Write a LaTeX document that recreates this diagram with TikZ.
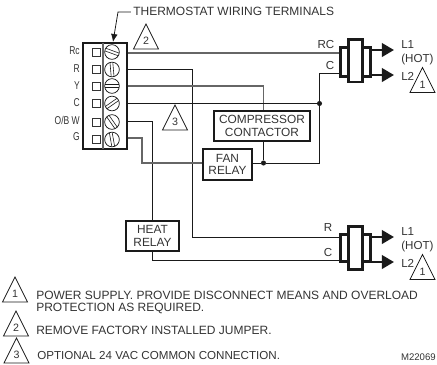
\documentclass[tikz,border=0pt]{standalone}
\usepackage{fontspec}
\setmainfont{Liberation Sans}
\newfontfamily\narrowf[FakeStretch=0.75]{Liberation Sans}
\usetikzlibrary{arrows.meta,calc}
\definecolor{ink}{HTML}{1A1A1A}
\definecolor{txt}{HTML}{333333}
\definecolor{wiregray}{HTML}{666666}
\tikzset{
  wire/.style={draw=ink,line width=0.65pt},
  graywire/.style={draw=wiregray,line width=0.8pt},
  relay/.style={draw=ink,line width=1.7pt,fill=white,inner sep=0pt,align=center,text=txt,font=\fontsize{8.9}{9.6}\selectfont},
  lbl/.style={text=txt,inner sep=0pt,font=\fontsize{8.7}{9}\selectfont},
  termlbl/.style={text=txt,inner sep=0pt,anchor=east,font=\narrowf\fontsize{8.5}{9}\selectfont},
  note/.style={text=txt,inner sep=0pt,anchor=west,font=\fontsize{9}{9}\selectfont},
  tri/.style={draw=ink,line width=0.6pt,line join=miter},
  trinum/.style={text=txt,inner sep=0pt,font=\fontsize{8}{8}\selectfont},
  termsq/.style={draw=txt,line width=0.55pt,fill=white,minimum size=6pt,inner sep=0pt},
  screw/.style={draw=ink,line width=0.55pt,circle,minimum size=11pt,inner sep=0pt},
  pinb/.style={draw=ink,line width=2.1pt,fill=white,inner sep=0pt},
  outarrow/.style={draw=ink,line width=1.9pt,-{Triangle[length=9pt,width=10pt]}},
  junct/.style={circle,fill=ink,minimum size=3.8pt,inner sep=0pt}
}
\newcommand{\warn}[4]{% name, apex x, apex y, number
  \coordinate (#1) at (#2,#3);
  \draw[tri] (#1) -- ++(-12.5,25) -- ++(25,0) -- cycle;
  \node[trinum] (#1n) at ($(#1)+(0,17)$) {#4};
}
\begin{document}
\begin{tikzpicture}[x=0.75pt,y=-0.75pt]
\useasboundingbox (0,0) rectangle (437,365);
% terminal block
\node[draw=ink,line width=1.3pt,minimum width=32.5pt,minimum height=79pt,inner sep=0pt] (block) at (105,96) {};
\draw[draw=wiregray,line width=0.9pt] (103,43) -- (103,149);
\node[termlbl] (lrc) at (80,51) {Rc};
\node[termlbl] (lr) at (80,69) {R};
\node[termlbl] (ly) at (80,86) {Y};
\node[termlbl] (lc) at (80,103) {C};
\node[termlbl] (lob) at (80,120) {O/B W};
\node[termlbl] (lg) at (80,137) {G};
\foreach \n/\y/\a in {rc/52/20,r/69.5/85,y/86/0,c/103.5/-35,ob/122/55,g/139.5/80}{
  \node[termsq] (sq\n) at (96.5,\y) {};
  \node[screw] (t\n) at (112,\y) {};
  \draw[ink,line width=0.45pt] ($(t\n)+(\a:7)+(\a+90:1.4)$) -- ($(t\n)+(\a+180:7)+(\a+90:1.4)$);
  \draw[ink,line width=0.45pt] ($(t\n)+(\a:7)+(\a-90:1.4)$) -- ($(t\n)+(\a+180:7)+(\a-90:1.4)$);
}
% title
\node[lbl,anchor=west,font=\fontsize{9}{9}\selectfont] (title) at (133,11) {THERMOSTAT WIRING TERMINALS};
\draw[ink,line width=0.6pt,-{Latex[length=6pt,width=5pt]}] (title.west) ++(-2,1) -- (118,12) -- (113,42);
% relays
\node[relay,minimum width=72pt,minimum height=22.5pt] (comp) at (262,126) {COMPRESSOR\\CONTACTOR};
\node[relay,minimum width=36.75pt,minimum height=23.5pt] (fan) at (227.5,164.5) {FAN\\RELAY};
\node[relay,minimum width=39.75pt,minimum height=22.5pt] (heat) at (152.5,236) {HEAT\\RELAY};
% connector blocks
\node[pinb,minimum width=22.5pt,minimum height=21.4pt] (outA) at (355.5,62) {};
\node[pinb,minimum width=10.5pt,minimum height=32pt] (innA) at (355.5,60.7) {};
\node[pinb,minimum width=22.5pt,minimum height=20pt] (outB) at (355.5,248) {};
\node[pinb,minimum width=10.5pt,minimum height=32pt] (innB) at (355.5,248) {};
% junctions
\node[junct] (j1) at (319.5,103.5) {};
\node[junct] (j2) at (263.5,163) {};
% wires
\draw[graywire] (block.east |- 0,53) -- (outA.west |- 0,53);
\draw[wire] (block.east |- tr) -| (192.7,237) -- (outB.west |- 0,237);
\draw[graywire] (block.east |- ty) -| (comp.north -| j2);
\draw[wire] (block.east |- tc) -- (j1);
\draw[wire] (outA.west |- 0,73) -| (j1);
\draw[wire] (j1) |- (j2);
\draw[wire] (j2) -- (fan.east |- j2);
\draw[wire] (comp.south -| j2) -- (j2);
\draw[wire] (block.east |- 0,121) -| (heat.north -| 152,0);
\draw[graywire] (block.east |- 0,138) -- (142,138) -- (142,163) -- (fan.west |- 0,163);
\draw[wire] (heat.south -| 152,0) |- (outB.west |- 0,260);
% outputs
\coordinate (a1) at (394,50);
\coordinate (a2) at (394,75);
\coordinate (b1) at (394,237);
\coordinate (b2) at (394,262);
\draw[outarrow] (outA.east |- a1) -- (a1);
\draw[outarrow] (outA.east |- a2) -- (a2);
\draw[outarrow] (outB.east |- b1) -- (b1);
\draw[outarrow] (outB.east |- b2) -- (b2);
% wire labels
\foreach \n/\x/\y/\t in {la/401/45/L1,lb/401/59/(HOT),lcc/401/76/L2,ld/401/232/L1,le/401/246/(HOT),lf/401/263/L2}{
  \node[lbl,anchor=west] (\n) at (\x,\y) {\t};
}
\node[lbl] (w1) at (326,45) {RC};
\node[lbl] (w2) at (330,66) {C};
\node[lbl] (w3) at (328,228) {R};
\node[lbl] (w4) at (328,253) {C};
% triangles
\warn{ta}{146}{24}{2}
\warn{tb}{175}{105}{3}
\warn{tc1}{422.5}{67.5}{1}
\warn{td}{422.5}{254.5}{1}
\warn{te}{15}{277}{1}
\warn{tf}{16}{311}{2}
\warn{tg1}{16.5}{338}{3}
% notes
\node[note] (n1) at (36,295) {POWER SUPPLY. PROVIDE DISCONNECT MEANS AND OVERLOAD};
\node[note] (n2) at (36,308) {PROTECTION AS REQUIRED.};
\node[note] (n3) at (36,330) {REMOVE FACTORY INSTALLED JUMPER.};
\node[note,font=\fontsize{8.7}{9}\selectfont] (n4) at (37,356) {OPTIONAL 24 VAC COMMON CONNECTION.};
\node[lbl,anchor=east,font=\fontsize{7.2}{7}\selectfont] (m) at (436,357) {M22069};
\end{tikzpicture}
\end{document}
